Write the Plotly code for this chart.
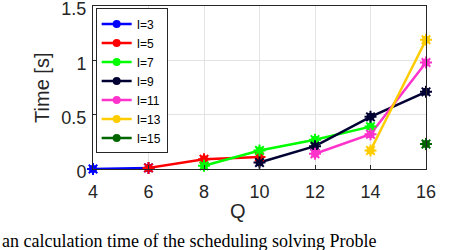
import plotly.graph_objects as go

# Data
Q3 = [4, 6]
T3 = [0.00, 0.01]
Q5 = [6, 8, 10]
T5 = [0.01, 0.09, 0.11]
Q7 = [8, 10, 12, 14]
T7 = [0.03, 0.17, 0.27, 0.39]
Q9 = [10, 12, 14, 16]
T9 = [0.06, 0.21, 0.48, 0.71]
Q11 = [12, 14, 16]
T11 = [0.14, 0.32, 0.98]
Q13 = [14, 16]
T13 = [0.17, 1.19]
Q15 = [16]
T15 = [0.23]

series = [
    ("I=3", Q3, T3, "#0000FF"),
    ("I=5", Q5, T5, "#FF0000"),
    ("I=7", Q7, T7, "#00FF00"),
    ("I=9", Q9, T9, "#000033"),
    ("I=11", Q11, T11, "#FF33CC"),
    ("I=13", Q13, T13, "#FFCC00"),
    ("I=15", Q15, T15, "#006600"),
]

x_ticks = [4, 6, 8, 10, 12, 14, 16]
y_ticks = [0, 0.5, 1, 1.5]
y_ticklabels = ["0", "0.5", "1", "1.5"]

fig = go.Figure()
for name, q, t, c in series:
    fig.add_trace(go.Scatter(
        x=q, y=t, name=name, mode="lines+markers",
        line=dict(color=c, width=2.5),
        marker=dict(symbol="circle", size=8, color=c),
        cliponaxis=False,
    ))
for name, q, t, c in series:
    fig.add_trace(go.Scatter(
        x=q, y=t, mode="markers", showlegend=False, hoverinfo="skip",
        marker=dict(symbol="asterisk-open", size=10, color=c,
                    line=dict(color=c, width=2)),
        cliponaxis=False,
    ))

axis_common = dict(
    showgrid=True, gridcolor="#E3E3E3", gridwidth=1,
    showline=True, linecolor="#262626", linewidth=1, mirror=True,
    ticks="inside", ticklen=4, tickcolor="#262626",
    tickfont=dict(family="Liberation Sans, Arial", size=18, color="#262626"),
    zeroline=False, automargin=False, ticklabeloverflow="allow",
)

fig.update_xaxes(range=[4, 16], tickvals=x_ticks, ticklabelstandoff=6, **axis_common)
fig.update_yaxes(range=[0, 1.5], tickvals=y_ticks, ticktext=y_ticklabels,
                 ticklabelstandoff=2, ticklabelshift=3, **axis_common)

fig.add_annotation(text="Time [s]", xref="paper", yref="paper", x=-0.155, y=0.5,
                   xanchor="center", yanchor="middle", textangle=-90, showarrow=False,
                   font=dict(family="Liberation Sans, Arial", size=20, color="#262626"))
fig.add_annotation(text="Q", xref="paper", yref="paper", x=0.435, y=-0.175,
                   xanchor="center", yanchor="top", showarrow=False,
                   font=dict(family="Liberation Sans, Arial", size=20, color="#262626"))
fig.add_annotation(text="an calculation time of the scheduling solving Proble",
                   xref="paper", yref="paper", x=-0.28, y=-0.515,
                   xanchor="left", yanchor="bottom", showarrow=False,
                   font=dict(family="Liberation Serif, Times New Roman", size=18, color="#000000"))

fig.update_layout(
    width=468, height=250,
    margin=dict(l=93, r=42, t=6, b=81),
    plot_bgcolor="white", paper_bgcolor="white",
    showlegend=True,
    legend=dict(x=0.008, y=0.985, xanchor="left", yanchor="top",
                bgcolor="white", bordercolor="#262626", borderwidth=1,
                font=dict(family="Liberation Sans, Arial", size=12, color="#000000"),
                tracegroupgap=0, itemwidth=30),
)

fig.write_html("out.html", config={"displayModeBar": False},
               post_script="document.body.style.margin='0px';document.body.style.overflow='hidden';")
